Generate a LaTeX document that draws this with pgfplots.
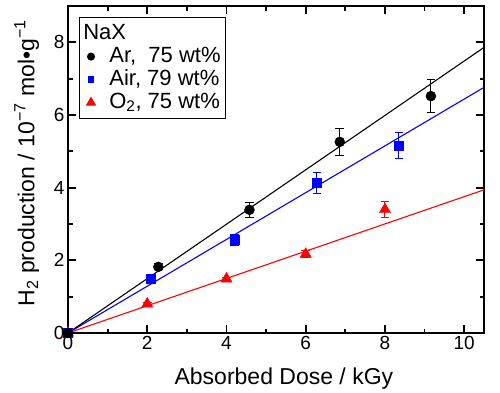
\documentclass[border=0pt]{standalone}
\usepackage{fontspec}
\setmainfont{Liberation Sans}
\usepackage{pgfplots}
\pgfplotsset{compat=1.18}
\usetikzlibrary{calc}
\begin{document}
\begin{tikzpicture}
\begin{axis}[name=ax, scale only axis, width=416pt, height=327pt,
  xmin=0, xmax=10.5, ymin=0, ymax=9,
  xtick={0,2,4,6,8,10}, ytick={0,2,4,6,8},
  minor xtick={1,3,5,7,9}, minor ytick={1,3,5,7},
  tick align=inside, major tick length=8pt, minor tick length=4.5pt,
  axis line style={line width=2pt},
  every tick/.style={line width=1.8pt, black},
  tick label style={font=\fontsize{19}{19}\selectfont},
  /pgf/number format/assume math mode=true,
  clip=false,
  xlabel={Absorbed Dose / kGy},
  ylabel={H\textsubscript{2} production / 10\textsuperscript{−7} mol•g\textsuperscript{−1}},
  label style={font=\fontsize{23}{23}\selectfont},
  xlabel style={at={(axis description cs:0.519,-0.138)}, anchor=center},
  ylabel style={at={(axis description cs:-0.099,0.52)}, anchor=center, rotate=0},
  legend style={at={(axis description cs:0.0264,0.966)}, anchor=north west,
    draw=black, line width=1pt, font=\fontsize{22}{22}\selectfont,
    legend cell align=left, inner xsep=3pt, inner ysep=4.5pt, column sep=12pt,
    nodes={text height=15.5pt, text depth=4.5pt, inner ysep=1.5pt}},
]
% fit lines
\addplot[red, line width=1.1pt, forget plot] coordinates {(0,0) (10.5,3.94)};
\addplot[blue, line width=1.1pt, forget plot] coordinates {(0,0) (10.5,6.76)};
\addplot[black, line width=1.1pt, forget plot] coordinates {(0,0) (10.5,7.86)};
% O2
\addplot[red, only marks, mark=triangle*, mark size=6.5pt, forget plot,
  error bars/.cd, y dir=both, y explicit,
  error bar style={line width=1pt},
  error mark options={rotate=90, line width=1pt, mark size=4.3pt}]
  coordinates {(0,0) +- (0,0) (2,0.80) +- (0,0.04) (4,1.49) +- (0,0.05) (6,2.17) +- (0,0.09) (8,3.40) +- (0,0.22)};
% Air
\addplot[blue, only marks, mark=square*, mark size=4.5pt, forget plot,
  error bars/.cd, y dir=both, y explicit,
  error bar style={line width=1pt},
  error mark options={rotate=90, line width=1pt, mark size=4.3pt}]
  coordinates {(0,0) +- (0,0) (2.08,1.50) +- (0,0.07) (4.2,2.57) +- (0,0.15) (6.28,4.13) +- (0,0.29) (8.35,5.15) +- (0,0.36)};
% Ar
\addplot[black, only marks, mark=*, mark size=5pt, forget plot,
  error bars/.cd, y dir=both, y explicit,
  error bar style={line width=1pt},
  error mark options={rotate=90, line width=1pt, mark size=4.3pt}]
  coordinates {(0,0) +- (0,0) (2.28,1.82) +- (0,0.08) (4.58,3.39) +- (0,0.21) (6.86,5.26) +- (0,0.37) (9.16,6.52) +- (0,0.46)};
% legend
\addlegendimage{empty legend}
\addlegendentry{\hspace{-26pt}NaX}
\addlegendimage{only marks, mark=*, black, mark size=3.5pt}
\addlegendentry{Ar,\ \ 75 wt\%}
\addlegendimage{only marks, mark=square*, blue, mark size=2.8pt}
\addlegendentry{Air, 79 wt\%}
\addlegendimage{only marks, mark=triangle*, red, mark size=5pt}
\addlegendentry{O\textsubscript{2}, 75 wt\%}
\end{axis}
\pgfresetboundingbox
\path[use as bounding box] ($(ax.south west)+(-68pt,-60pt)$) rectangle ($(ax.north east)+(16pt,6pt)$);
\end{tikzpicture}
\end{document}
